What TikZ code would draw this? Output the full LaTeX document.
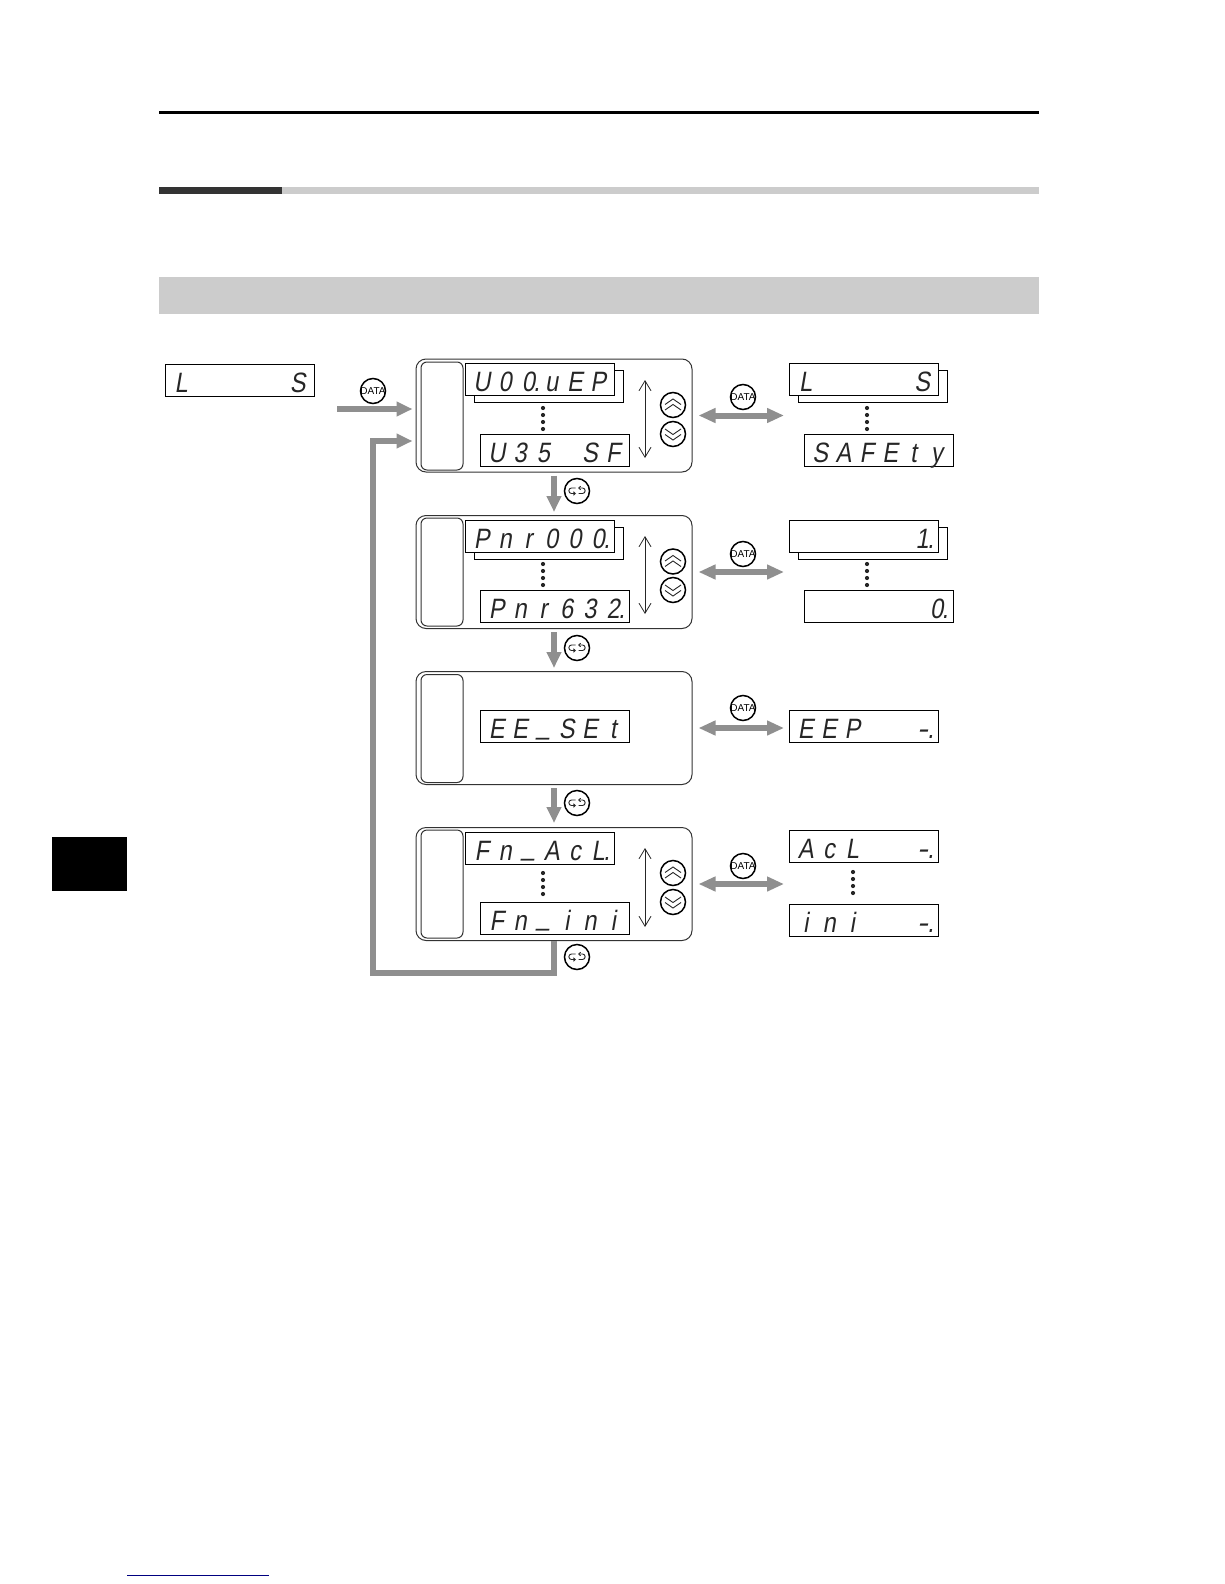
\documentclass[tikz,border=0pt]{standalone}
\usepackage{fontspec}
\usepackage{graphicx}
\setmainfont{Liberation Sans}
\newfontfamily\dspfamily[FakeSlant=0.17,FakeStretch=0.84]{Liberation Sans}
\usetikzlibrary{arrows.meta,calc}
\definecolor{flowgray}{HTML}{8F8F8F}
\definecolor{bandgray}{HTML}{CCCCCC}
\definecolor{bardark}{HTML}{333333}
\definecolor{linkblue}{HTML}{000080}
% one display cell per character; a decimal point shares the cell before it
\newcommand\ub{\raisebox{4.5pt}{\_}}
\newcommand\dsp[1]{\dsploop#1\relax}
\def\dsploop#1{\ifx#1\relax\else\dspcell{#1}\expandafter\dsploop\fi}
\def\dspcell#1{\ifx#1.\llap{.}\else\ifx#1-\makebox[23.3pt]{\scalebox{1.4}[1]{-}}\else\makebox[23.3pt]{#1}\fi\fi}
\tikzset{
  x=1pt,y=-1pt,
  dispbox/.style={draw=black,fill=white,line width=1pt,minimum width=149pt,minimum height=32pt,inner sep=0pt,
    text height=24pt,text depth=0pt,font=\dspfamily\fontsize{28pt}{28pt}\selectfont,text=black!85},
  panelbox/.style={draw=black!80,line width=1pt,rounded corners=10pt,minimum width=276pt,minimum height=113pt,inner sep=0pt},
  labelbox/.style={draw=black!80,line width=1pt,rounded corners=6pt,minimum width=42pt,minimum height=108pt,inner sep=0pt},
  btn/.style={circle,draw=black,fill=white,line width=1.5pt,minimum size=25pt,inner sep=0pt},
  datalabel/.style={font=\fontsize{10pt}{10pt}\selectfont},
  flow/.style={draw=flowgray,line width=6pt},
  flowtip/.style={-{Triangle[width=14pt,length=16pt]}},
  flowboth/.style={{Triangle[width=14pt,length=17pt]}-{Triangle[width=14pt,length=17pt]}},
  scrollarrow/.style={draw=black!85,line width=0.8pt,{Straight Barb[width=12pt,length=10pt]}-{Straight Barb[width=12pt,length=10pt]}},
  glyph/.style={draw=black!85,line width=0.9pt},
}
\newcommand\upbtn[3]{\node[btn] (#1) at (#2,#3) {};
  \begin{scope}[shift={(#2,#3)}]
    \draw[glyph] (-8,-0.5)--(0,-6)--(8,-0.5);
    \draw[glyph] (-8,5)--(0,-0.5)--(8,5);
  \end{scope}}
\newcommand\downbtn[3]{\node[btn] (#1) at (#2,#3) {};
  \begin{scope}[shift={(#2,#3)}]
    \draw[glyph] (-8,-5)--(0,0.5)--(8,-5);
    \draw[glyph] (-8,0.5)--(0,6)--(8,0.5);
  \end{scope}}
\newcommand\retbtn[3]{\node[btn] (#1) at (#2,#3) {};
  \begin{scope}[shift={(#2,#3)}]
    \draw[glyph,-{Straight Barb[width=3.5pt,length=2pt]}] (-1.5,-3) -- (-5.5,-3) .. controls (-9,-3) and (-9,2.5) .. (-5.5,2.5) -- (-1,2.5);
    \draw[glyph,-{Straight Barb[width=3.5pt,length=2pt]}] (1.5,2.5) -- (5.5,2.5) .. controls (9,2.5) and (9,-3) .. (5.5,-3) -- (1,-3);
  \end{scope}}
\newcommand\databtn[3]{\node[btn,datalabel] (#1) at (#2,#3) {\makebox[0pt]{DATA}};}
\newcommand\dotcol[2]{\foreach \dy in {0,7,14,21} \fill[black!85] (#1,#2+\dy) circle[radius=2.1];}
\begin{document}
\begin{tikzpicture}
\useasboundingbox (0,0) rectangle (1224,1584);
\fill[white] (0,0) rectangle (1224,1584);
% page furniture
\fill[black] (159,111) rectangle (1039,114);
\fill[bardark] (159,187) rectangle (282,194);
\fill[bandgray] (282,187) rectangle (1039,194);
\fill[bandgray] (159,277) rectangle (1039,314);
\fill[black] (52,837) rectangle (127,891);
\fill[linkblue] (127,1574.5) rectangle (269,1575.7);

% panels
\node[panelbox] (p1) at (554,415.5) {};
\node[panelbox] (p2) at (554,572) {};
\node[panelbox] (p3) at (554,728) {};
\node[panelbox] (p4) at (554,884) {};
\node[labelbox] (l1) at (442,416) {};
\node[labelbox] (l2) at (442,572) {};
\node[labelbox] (l3) at (442,728.5) {};
\node[labelbox] (l4) at (442,884) {};

% displays inside panels
\node[dispbox] (b1) at (549,386) {};
\node[dispbox] (f1) at (540,379) {\dsp{U00.uEP}};
\node[dispbox] (g1) at (555,450) {\dsp{U35~SF}};
\node[dispbox] (b2) at (549,543) {};
\node[dispbox] (f2) at (540,536) {\dsp{Pnr000.}};
\node[dispbox] (g2) at (555,606) {\dsp{Pnr632.}};
\node[dispbox] (g3) at (555,726.5) {\dsp{EE\ub SEt}};
\node[dispbox] (f4) at (540,848) {\dsp{Fn\ub AcL.}};
\node[dispbox] (g4) at (555,918) {\dsp{Fn\ub ini}};

% displays outside panels
\node[dispbox] (start) at (239.5,380.5) {\dsp{L~~~~S}};
\node[dispbox] (rb1) at (873,386) {};
\node[dispbox] (r1) at (864,379) {\dsp{L~~~~S}};
\node[dispbox] (s1) at (878.5,450) {\dsp{SAFEty}};
\node[dispbox] (rb2) at (873,543) {};
\node[dispbox] (r2) at (864,536) {\dsp{~~~~~1.}};
\node[dispbox] (s2) at (878.5,606) {\dsp{~~~~~0.}};
\node[dispbox] (r3) at (864,726) {\dsp{EEP~~-.}};
\node[dispbox] (r4) at (864,846) {\dsp{AcL~~-.}};
\node[dispbox] (s4) at (864,920) {\dsp{ini~~-.}};

% dotted continuations
\dotcol{543}{408}
\dotcol{543}{564}
\dotcol{543}{873}
\dotcol{867}{408}
\dotcol{867}{564}
\dotcol{853}{872}

% scroll arrows and buttons
\coordinate (sa1) at (645,380); \coordinate (sb1) at (645,458);
\coordinate (sa2) at (645,536); \coordinate (sb2) at (645,614);
\coordinate (sa4) at (645,848); \coordinate (sb4) at (645,927);
\draw[scrollarrow] (sa1) -- (sb1);
\draw[scrollarrow] (sa2) -- (sb2);
\draw[scrollarrow] (sa4) -- (sb4);
\upbtn{u1}{673}{405} \downbtn{d1}{673}{434}
\upbtn{u2}{673}{561.5} \downbtn{d2}{673}{590}
\upbtn{u4}{673}{873} \downbtn{d4}{673}{902}

% flow between panels
\draw[flow,flowtip,shorten <=3pt,shorten >=3pt] (p1.south) -- (p2.north);
\draw[flow,flowtip,shorten <=3pt,shorten >=3pt] (p2.south) -- (p3.north);
\draw[flow,flowtip,shorten <=3pt,shorten >=4pt] (p3.south) -- (p4.north);
\retbtn{k1}{577}{491}
\retbtn{k2}{577}{648}
\retbtn{k3}{577}{803}
\retbtn{k4}{577}{957}

% entry arrow and return loop
\coordinate (entry) at (337,409);
\coordinate (loopa) at (373,973);
\coordinate (loopb) at (373,441);
\draw[flow,flowtip,shorten >=3pt] (entry) -- (p1.west |- entry);
\draw[flow,flowtip,shorten >=3pt] (p4.south) |- (loopa) -- (loopb) -- (p1.west |- loopb);
\databtn{da}{373}{391}

% data arrows to the right
\draw[flow,flowboth,shorten <=6pt,shorten >=5pt] (p1.east) -- (p1.east -| r1.west);
\draw[flow,flowboth,shorten <=6pt,shorten >=5pt] (p2.east) -- (p2.east -| r2.west);
\draw[flow,flowboth,shorten <=6pt,shorten >=5pt] (p3.east) -- (p3.east -| r3.west);
\draw[flow,flowboth,shorten <=6pt,shorten >=5pt] (p4.east) -- (p4.east -| r4.west);
\databtn{d5}{743}{397}
\databtn{d6}{743}{554}
\databtn{d7}{743}{708}
\databtn{d8}{743}{866}
\end{tikzpicture}
\end{document}
